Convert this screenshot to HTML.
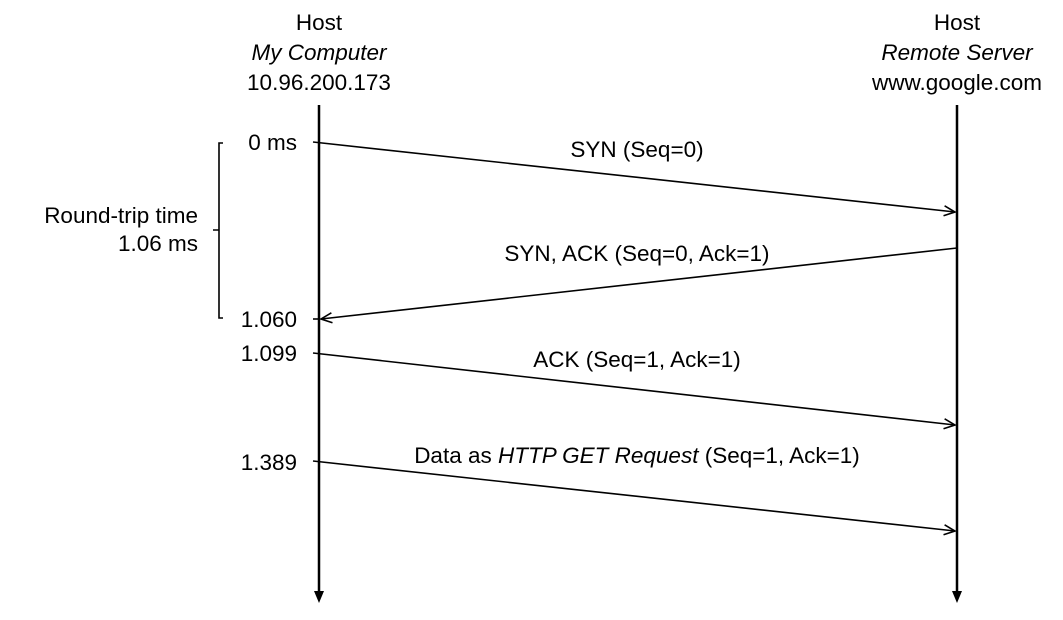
<!DOCTYPE html>
<html><head><style>
body{margin:0;background:#fff}
svg text{font-family:"Liberation Sans",sans-serif;font-size:22.5px;fill:#000}
</style></head><body>
<svg width="1063" height="615" xmlns="http://www.w3.org/2000/svg">
<defs>
<marker id="o" markerWidth="14" markerHeight="12" refX="12" refY="6" orient="auto" markerUnits="userSpaceOnUse">
<path d="M1,1 L12,6 L1,11" fill="none" stroke="#000" stroke-width="1.6"/></marker>
</defs>
<g text-anchor="middle">
<text x="319" y="30">Host</text>
<text x="319" y="60" font-style="italic">My Computer</text>
<text x="319" y="90">10.96.200.173</text>
<text x="957" y="30">Host</text>
<text x="957" y="60" font-style="italic">Remote Server</text>
<text x="957" y="90">www.google.com</text>
<text x="637" y="157">SYN (Seq=0)</text>
<text x="637" y="261">SYN, ACK (Seq=0, Ack=1)</text>
<text x="637" y="367">ACK (Seq=1, Ack=1)</text>
<text x="637" y="463">Data as <tspan font-style="italic">HTTP GET Request</tspan> (Seq=1, Ack=1)</text>
</g>
<g text-anchor="end">
<text x="297" y="150">0 ms</text>
<text x="297" y="327">1.060</text>
<text x="297" y="361">1.099</text>
<text x="297" y="470">1.389</text>
<text x="198" y="223">Round-trip time</text>
<text x="198" y="251">1.06 ms</text>
</g>
<g stroke="#000" fill="none">
<line x1="319" y1="105" x2="319" y2="592" stroke-width="2.5"/>
<line x1="957" y1="105" x2="957" y2="592" stroke-width="2.5"/>
<path d="M223,143 H219 V318 H223 M219,230 H213" stroke-width="1.6"/>
<g stroke-width="1.6">
<line x1="313" y1="142" x2="955" y2="212" marker-end="url(#o)"/>
<line x1="957" y1="248" x2="321" y2="319" marker-end="url(#o)"/>
<line x1="313" y1="319" x2="319" y2="319"/>
<line x1="313" y1="353" x2="955" y2="425" marker-end="url(#o)"/>
<line x1="313" y1="461" x2="955" y2="531" marker-end="url(#o)"/>
</g>
</g>
<path d="M314,591 L324,591 L319,603 Z" fill="#000"/>
<path d="M952,591 L962,591 L957,603 Z" fill="#000"/>
</svg>
</body></html>
